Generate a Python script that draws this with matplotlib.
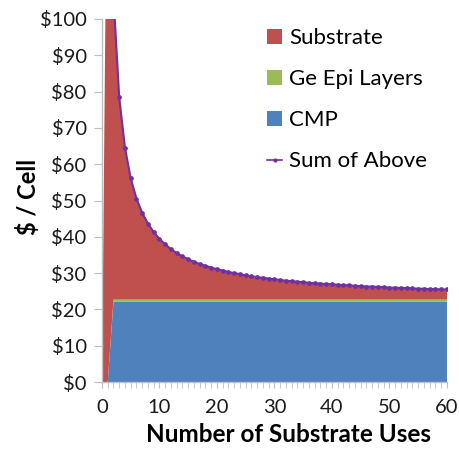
import matplotlib
matplotlib.use("Agg")
import matplotlib.pyplot as plt
from matplotlib.lines import Line2D
from matplotlib.patches import Patch
import numpy as np

plt.rcParams['font.family'] = ['Lato', 'DejaVu Sans']

# Number of substrate uses (category axis)
uses = list(range(61))

# Cost per cell for each component ($)
cmp_cost = [0.0, 0.0] + [22.1] * 59
epi_cost = [0.0, 0.0] + [0.6] * 59
substrate_cost = [
    0.0, 170.0, 83.5, 55.7, 41.8, 33.4, 27.8, 23.9, 20.9, 18.6,
    16.7, 15.2, 13.9, 12.8, 11.9, 11.1, 10.4, 9.8, 9.3, 8.8,
    8.4, 8.0, 7.6, 7.3, 7.0, 6.7, 6.4, 6.2, 6.0, 5.8,
    5.6, 5.4, 5.2, 5.1, 4.9, 4.8, 4.6, 4.5, 4.4, 4.3,
    4.2, 4.1, 4.0, 3.9, 3.8, 3.7, 3.6, 3.6, 3.5, 3.4,
    3.3, 3.3, 3.2, 3.2, 3.1, 3.0, 3.0, 2.9, 2.9, 2.8,
    2.8,
]

c_sub = '#C0504D'
c_epi = '#9BBB59'
c_cmp = '#4F81BD'
c_sum = '#7030A0'

x = np.array(uses)
total = np.array(cmp_cost) + np.array(epi_cost) + np.array(substrate_cost)

fig = plt.figure(figsize=(4.6, 4.49), dpi=100)
ax = fig.add_axes([0.2217, 0.1492, 0.75, 0.8085])

ax.stackplot(x, cmp_cost, epi_cost, substrate_cost,
             colors=[c_cmp, c_epi, c_sub], linewidth=0)
ax.plot(x[1:], total[1:], color=c_sum, lw=1.5, marker='o', ms=3.4,
        markeredgewidth=0)

ax.set_xlim(0, 60)
ax.set_ylim(0, 100)
ax.set_xticks(range(0, 61, 10))
ax.set_xticks(range(0, 61), minor=True)
ax.set_yticks(range(0, 101, 10))
ax.set_yticklabels(['$%d' % v for v in range(0, 101, 10)])

for s in ['top', 'right']:
    ax.spines[s].set_visible(False)
for s in ['left', 'bottom']:
    ax.spines[s].set_color('#BFBFBF')
    ax.spines[s].set_linewidth(1.0)

ax.tick_params(axis='x', which='both', length=4.5, color='#BFBFBF',
               labelsize=14.5, pad=8, labelcolor='#1A1A1A')
ax.tick_params(axis='y', length=6, color='#BFBFBF', labelsize=14.5,
               labelcolor='#1A1A1A', pad=5)

ax.set_xlabel('Number of Substrate Uses', fontsize=17.5, fontweight='bold',
              labelpad=5, x=0.54)
ax.set_ylabel('$ / Cell', fontsize=17, fontweight='bold', labelpad=0,
              y=0.51)

handles = [
    Patch(facecolor=c_sub, edgecolor='none'),
    Patch(facecolor=c_epi, edgecolor='none'),
    Patch(facecolor=c_cmp, edgecolor='none'),
    Line2D([0], [0], color=c_sum, lw=1.2, marker='o', ms=3,
           markeredgewidth=0),
]
labels = ['Substrate', 'Ge Epi Layers', 'CMP', 'Sum of Above']
ax.legend(handles, labels, loc='upper left', bbox_to_anchor=(0.42, 1.03),
          frameon=False, fontsize=16, handlelength=0.7, handleheight=0.7,
          handletextpad=0.3, labelspacing=0.95)

fig.savefig('out.png', dpi=100)
